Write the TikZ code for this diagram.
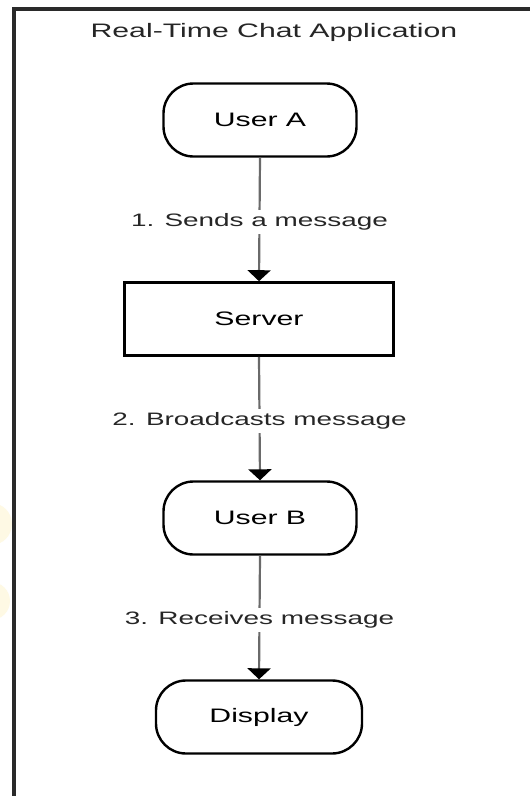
\documentclass[tikz,border=0pt]{standalone}
\usepackage{fontspec}
\usepackage{graphicx}
\setmainfont{Liberation Sans}
\usetikzlibrary{arrows.meta}
\definecolor{framec}{HTML}{2A2A2A}
\definecolor{linec}{HTML}{6A6A6A}
\definecolor{labelc}{HTML}{262626}
\definecolor{blobc}{HTML}{FEF9E4}
\newcommand\stretchtxt[1]{\scalebox{1.55}[1]{#1}}
\tikzset{
  x=1pt, y=-1pt,
  nodetext/.style={font=\fontsize{19.5}{23}\selectfont, text=black},
  pill/.style={nodetext, draw=black, line width=2.4pt, rounded corners=30pt,
    minimum height=73pt, inner sep=0pt, fill=white},
  boxnode/.style={nodetext, draw=black, line width=2.6pt,
    minimum height=73pt, inner sep=0pt, fill=white},
  flowlabel/.style={font=\fontsize{18}{22}\selectfont, text=labelc, fill=white,
    inner xsep=2pt, inner ysep=4pt},
  flowarrow/.style={draw=linec, line width=2.2pt,
    -{Triangle[width=23pt,length=11pt,fill=black,color=black]}},
}
\begin{document}
\begin{tikzpicture}
\useasboundingbox (0,0) rectangle (530,796);
\clip (0,0) rectangle (530,796);
\fill[white] (0,0) rectangle (530,796);
% faint watermark blobs
\fill[blobc] (-9,524) circle (21);
\fill[blobc] (-9,601) circle (19);
% outer frame (cut by the page)
\draw[framec, line width=3.6pt] (560,9) -- (14,9) -- (14,830);
% title
\node[nodetext, text=labelc] (title) at (274,32) {\stretchtxt{Real-Time Chat Application}};
% nodes
\node[pill, minimum width=193pt] (usera) at (260,120) {\stretchtxt{User A}};
\node[boxnode, minimum width=269pt] (server) at (259,319) {\stretchtxt{Server}};
\node[pill, minimum width=193pt] (userb) at (260,518) {\stretchtxt{User B}};
\node[pill, minimum width=206pt] (display) at (259,717) {\stretchtxt{Display}};
% connectors
\draw[flowarrow] (usera.south) -- node[flowlabel, pos=0.52] (l1) {\stretchtxt{1. Sends a message}} (server.north);
\draw[flowarrow] (server.south) -- node[flowlabel, pos=0.52] (l2) {\stretchtxt{2. Broadcasts message}} (userb.north);
\draw[flowarrow] (userb.south) -- node[flowlabel, pos=0.52] (l3) {\stretchtxt{3. Receives message}} (display.north);
\end{tikzpicture}
\end{document}
